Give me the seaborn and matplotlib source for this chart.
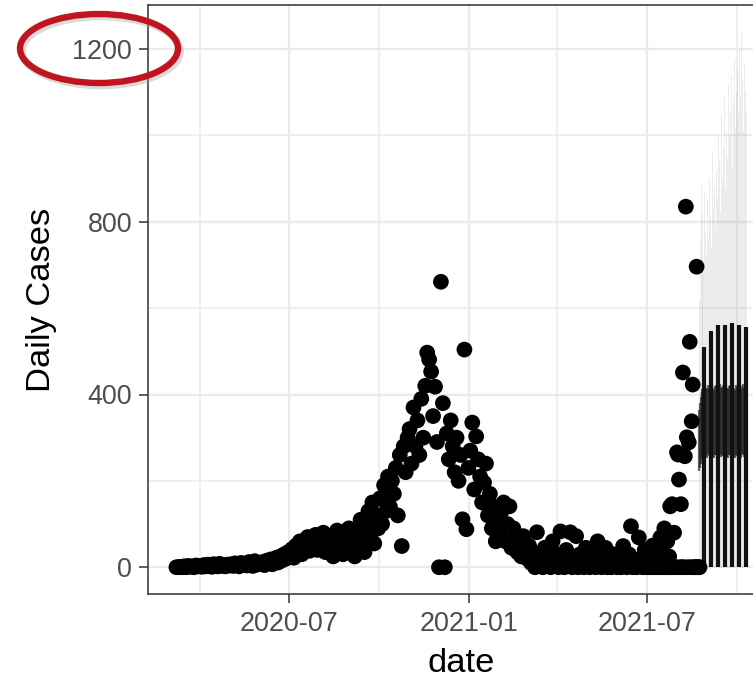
import numpy as np
import pandas as pd
import matplotlib
matplotlib.use("Agg")
import matplotlib.pyplot as plt
import matplotlib.dates as mdates
from matplotlib.patches import Ellipse
import seaborn as sns

# ---------------- data ----------------
# observed daily cases, every 2nd day, 2020-03-08 .. 2021-06-29
start_2day = "2020-03-08"
cases_2day = [
    # Mar 2020 (12)
    0, 0, 1, 0, 2, 0, 3, 1, 2, 0, 4, 2,
    # Apr (15)
    3, 1, 5, 2, 6, 3, 1, 7, 4, 2, 8, 3, 5, 2, 6,
    # May (16)
    4, 7, 3, 9, 5, 2, 10, 6, 8, 4, 12, 7, 3, 14, 6, 9,
    # Jun (15)
    8, 12, 5, 15, 10, 18, 7, 14, 22, 11, 25, 16, 30, 20, 35,
    # Jul (15)
    28, 42, 22, 50, 35, 60, 30, 55, 45, 70, 38, 62, 48, 75, 40,
    # Aug (16)
    65, 52, 80, 35, 60, 45, 72, 25, 55, 85, 40, 62, 30, 70, 50, 90,
    # Sep (15)
    40, 70, 25, 85, 50, 110, 60, 35, 95, 130, 70, 150, 55, 120, 90,
    # Oct (15)
    160, 100, 190, 130, 210, 140, 200, 170, 230, 120, 260, 49, 280, 220, 300,
    # Nov (15)
    320, 240, 370, 280, 340, 260, 390, 300, 420, 497, 481, 453, 350, 418, 290,
    # Dec (16)
    0, 661, 380, 0, 310, 250, 340, 280, 220, 300, 200, 260, 111, 504, 88, 230,
    # Jan 2021 (15)
    270, 335, 180, 303, 250, 210, 150, 196, 240, 120, 170, 90, 140, 60, 110,
    # Feb (14)
    80, 130, 150, 60, 100, 141, 45, 90, 70, 35, 60, 25, 72, 40,
    # Mar (16)
    20, 50, 10, 35, 0, 81, 15, 30, 0, 45, 5, 25, 0, 60, 10, 30,
    # Apr (15)
    0, 83, 15, 0, 40, 5, 81, 0, 20, 72, 0, 30, 10, 0, 45,
    # May (15)
    5, 0, 35, 20, 0, 60, 10, 0, 25, 45, 0, 15, 0, 30, 5,
    # Jun (15)
    0, 20, 0, 49, 10, 0, 30, 95, 0, 15, 0, 69, 20, 0, 40,
]

# observed daily cases, every day, 2021-07-01 .. 2021-08-24
start_daily = "2021-07-01"
cases_daily = [
    0, 10, 0, 25, 0, 5, 50, 0, 15, 0,
    35, 0, 0, 20, 69, 0, 40, 0, 90, 0,
    0, 60, 0, 25, 141, 0, 146, 0, 80, 0, 0,
    266, 261, 203, 0, 146, 0, 451, 0, 257, 835,
    301, 0, 289, 522, 0, 338, 423, 0, 0, 0,
    696, 0, 0, 0,
]

# forecast, daily 2021-08-23 .. 2021-10-10
start_fc = "2021-08-23"
fc_band_lo = [222, 230, 240, 250, 255, 258, 252, 260, 256, 254,
              262, 257, 250, 258, 263, 255, 252, 259, 261, 256,
              250, 258, 262, 255, 257, 260, 253, 258, 262, 256,
              254, 259, 261, 255, 258, 263, 256, 252, 260, 257,
              255, 261, 258, 254, 259, 262, 256, 258, 257]
fc_band_hi = [365, 380, 395, 405, 412, 418, 410, 420, 415, 412,
              422, 416, 410, 419, 424, 414, 411, 420, 423, 417,
              410, 418, 424, 415, 417, 421, 412, 418, 424, 416,
              413, 420, 422, 415, 418, 425, 416, 411, 421, 417,
              414, 422, 418, 413, 419, 424, 416, 418, 417]
fc_upper = [620, 760, 885, 700, 820, 690, 874, 780, 720,
            850, 760, 900, 810, 740, 966, 830, 880, 790, 920,
            860, 1000, 940, 820, 1050, 900, 970, 1093, 880, 1010,
            950, 1120, 1000, 1060, 1140, 930, 1080, 1180, 1020, 1100,
            1160, 1050, 1200, 1090, 1240, 1130, 1010, 1170, 1100, 1060]

# weekly forecast ranges (thick bars)
bar_dates = ["2021-08-29", "2021-09-05", "2021-09-12", "2021-09-19",
             "2021-09-26", "2021-10-03", "2021-10-10"]
bar_top = [511, 546, 562, 562, 566, 562, 557]

y_ticks = [0, 400, 800, 1200]
x_ticks = ["2020-07-01", "2021-01-01", "2021-07-01"]
x_minor = ["2020-04-01", "2020-10-01", "2021-04-01", "2021-10-01"]

# ---------------- frames ----------------
obs = pd.concat([
    pd.DataFrame({"date": pd.date_range(start_2day, periods=len(cases_2day), freq="2D"),
                  "cases": cases_2day}),
    pd.DataFrame({"date": pd.date_range(start_daily, periods=len(cases_daily), freq="D"),
                  "cases": cases_daily}),
], ignore_index=True)

fc = pd.DataFrame({"date": pd.date_range(start_fc, periods=len(fc_upper), freq="D"),
                   "lo": fc_band_lo, "hi": fc_band_hi, "up": fc_upper})
bars = pd.DataFrame({"date": pd.to_datetime(bar_dates), "top": bar_top})

# ---------------- style ----------------
sns.set_theme(style="white")
plt.rcParams["font.family"] = ["Liberation Sans", "DejaVu Sans"]

W, H = 753, 679
fig = plt.figure(figsize=(W / 100, H / 100), dpi=100)
left, right, top, bottom = 148, 774, 5, 594
ax = fig.add_axes([left / W, 1 - bottom / H, (right - left) / W, (bottom - top) / H])

grid_c = "#EBEBEB"
for d in x_minor:
    ax.axvline(pd.Timestamp(d), color=grid_c, lw=1.1, zorder=0)
for d in x_ticks:
    ax.axvline(pd.Timestamp(d), color=grid_c, lw=1.7, zorder=0)
for v in [200, 600, 1000]:
    ax.axhline(v, color=grid_c, lw=1.1, zorder=0)
for v in y_ticks:
    ax.axhline(v, color=grid_c, lw=1.7, zorder=0)

# forecast: faint full ranges, dark central band, thick weekly bars
ax.vlines(fc["date"], 0, fc["up"], color="black", alpha=0.08, lw=0.7, zorder=2)
ax.vlines(fc["date"], fc["lo"], fc["hi"], color="#1a1a1a", alpha=0.65, lw=1.6, zorder=3)
ax.vlines(bars["date"], 0, bars["top"], color="#111111", lw=3.0, zorder=4)

sns.scatterplot(data=obs, x="date", y="cases", ax=ax, color="black",
                s=128, edgecolor="none", linewidth=0, zorder=5, legend=False)

ax.set_xlim(pd.Timestamp("2020-02-08"), pd.Timestamp("2021-11-08"))
ax.set_ylim(-62, 1302)
ax.set_xticks(pd.to_datetime(x_ticks))
ax.xaxis.set_major_formatter(mdates.DateFormatter("%Y-%m"))
ax.set_yticks(y_ticks)

for s in ax.spines.values():
    s.set_color("#333333")
    s.set_linewidth(1.1)
    s.set_visible(True)

ax.tick_params(axis="both", which="major", length=6.5, width=1.1, color="#333333",
               labelsize=19.4, labelcolor="#4D4D4D", pad=6, direction="out",
               bottom=True, left=True)
ax.tick_params(axis="y", pad=5)

ax.set_xlabel("date", fontsize=24.8, color="black", labelpad=8)
ax.set_ylabel("Daily Cases", fontsize=24.8, color="black", labelpad=11)
ax.grid(False)

# red annotation ellipse around the 1200 label
shadow = Ellipse((101 / W, 1 - 51 / H), 158 / W, 69 / H, transform=fig.transFigure,
                 fill=False, edgecolor="#999999", alpha=0.35, lw=5.5, zorder=9, clip_on=False)
ell = Ellipse((99 / W, 1 - 48.5 / H), 158 / W, 69 / H, transform=fig.transFigure,
              fill=False, edgecolor="#C0151F", lw=4.6, zorder=10, clip_on=False)
fig.add_artist(shadow)
fig.add_artist(ell)

fig.savefig("out.png", dpi=100)
